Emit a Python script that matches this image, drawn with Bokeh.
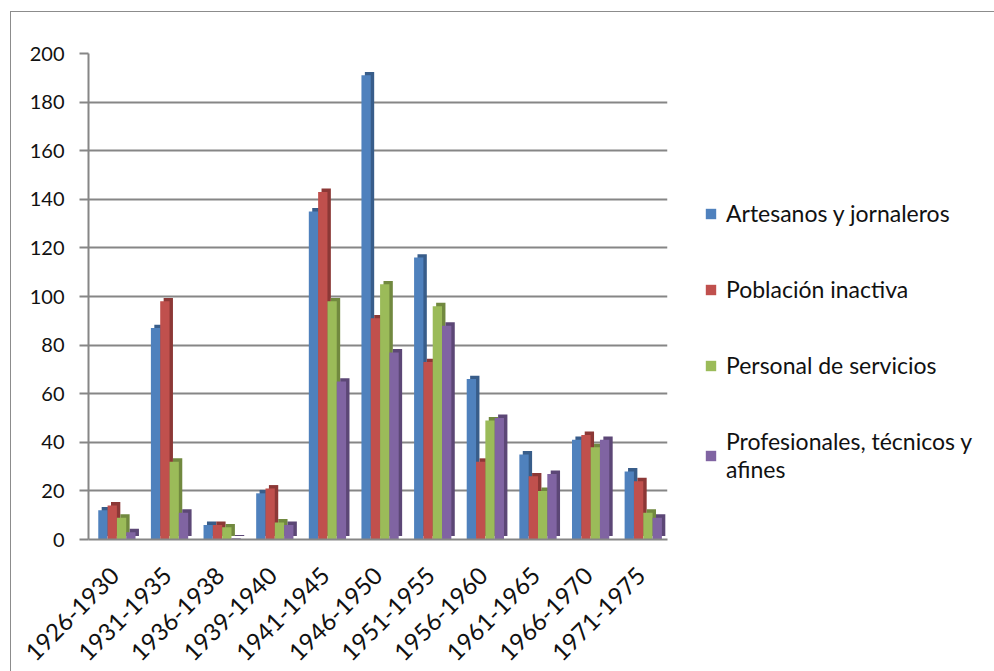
from bokeh.plotting import figure
from bokeh.models import ColumnDataSource, Legend, LegendItem, FactorRange
from bokeh.transform import dodge
from bokeh.embed import file_html
from bokeh.resources import INLINE
import math

periods = ["1926-1930", "1931-1935", "1936-1938", "1939-1940", "1941-1945", "1946-1950",
           "1951-1955", "1956-1960", "1961-1965", "1966-1970", "1971-1975"]
artesanos = [12, 87, 6, 19, 135, 191, 116, 66, 35, 41, 28]
poblacion = [14, 98, 6, 21, 143, 91, 73, 32, 26, 43, 24]
servicios = [9, 32, 5, 7, 98, 105, 96, 49, 20, 38, 11]
profesionales = [3, 11, 0.5, 6, 65, 77, 88, 50, 27, 41, 9]

series_names = ["Artesanos y jornaleros", "Población inactiva", "Personal de servicios",
                "Profesionales, técnicos y\nafines"]
series_keys = ["artesanos", "poblacion", "servicios", "profesionales"]
front_colors = ["#4F81BD", "#C0504D", "#9BBB59", "#8064A2"]
side_colors = ["#385D8A", "#8C3836", "#71893F", "#5C4776"]
y_ticks = list(range(0, 201, 20))

source = ColumnDataSource(dict(periods=periods, artesanos=artesanos, poblacion=poblacion,
                               servicios=servicios, profesionales=profesionales))

FONT = "Lato"
p = figure(x_range=FactorRange(*periods), y_range=(0, 200), frame_width=579, frame_height=486,
           output_backend="svg", toolbar_location=None,
           min_border_left=77, min_border_top=41, min_border_bottom=124, min_border_right=0)
p.margin = (11, 0, 0, 10)
p.outline_line_color = None
p.background_fill_color = "white"
p.styles = {"border-top": "1px solid #8c8c8c", "border-left": "1px solid #8c8c8c"}

offsets = [-0.226, -0.049, 0.128, 0.305]
w = 0.177
items = []
for key, name, fc, sc, off in zip(series_keys, series_names, front_colors, side_colors, offsets):
    p.vbar(x=dodge("periods", off + 0.065, range=p.x_range), top=dodge(key, 1.4), bottom=1.4,
           width=w, source=source, fill_color=sc, line_color=None)
    r = p.vbar(x=dodge("periods", off, range=p.x_range), top=key, width=w, source=source,
               fill_color=fc, line_color=None)
    items.append(LegendItem(label=name, renderers=[r]))

p.ygrid.grid_line_color = "#868686"
p.ygrid.grid_line_width = 2
p.xgrid.grid_line_color = None

p.yaxis.ticker = y_ticks
p.yaxis.axis_line_color = "#868686"
p.yaxis.axis_line_width = 2
p.yaxis.major_tick_line_color = "#868686"
p.yaxis.major_tick_line_width = 2
p.yaxis.major_tick_out = 9
p.yaxis.major_tick_in = 0
p.yaxis.minor_tick_line_color = None
p.yaxis.major_label_standoff = 15
p.yaxis.major_label_text_font = FONT
p.yaxis.major_label_text_font_size = "20px"
p.yaxis.major_label_text_color = "#111111"

p.xaxis.axis_line_color = "#868686"
p.xaxis.axis_line_width = 2
p.xaxis.major_tick_line_color = None
p.xaxis.major_label_orientation = math.pi / 4
p.xaxis.major_label_text_font = FONT
p.xaxis.major_label_text_font_size = "24px"
p.xaxis.major_label_text_color = "#111111"
p.xaxis.major_label_standoff = 26

legend = Legend(items=items, location=(37, 56))
legend.border_line_color = None
legend.background_fill_alpha = 0
legend.label_text_font = FONT
legend.label_text_font_size = "23px"
legend.label_text_color = "#111111"
legend.glyph_width = 13
legend.glyph_height = 13
legend.label_standoff = 9
legend.spacing = 48
legend.label_height = 28
legend.padding = 0
legend.margin = 0
p.add_layout(legend, "right")

open("out.html", "w").write(file_html(p, INLINE))
